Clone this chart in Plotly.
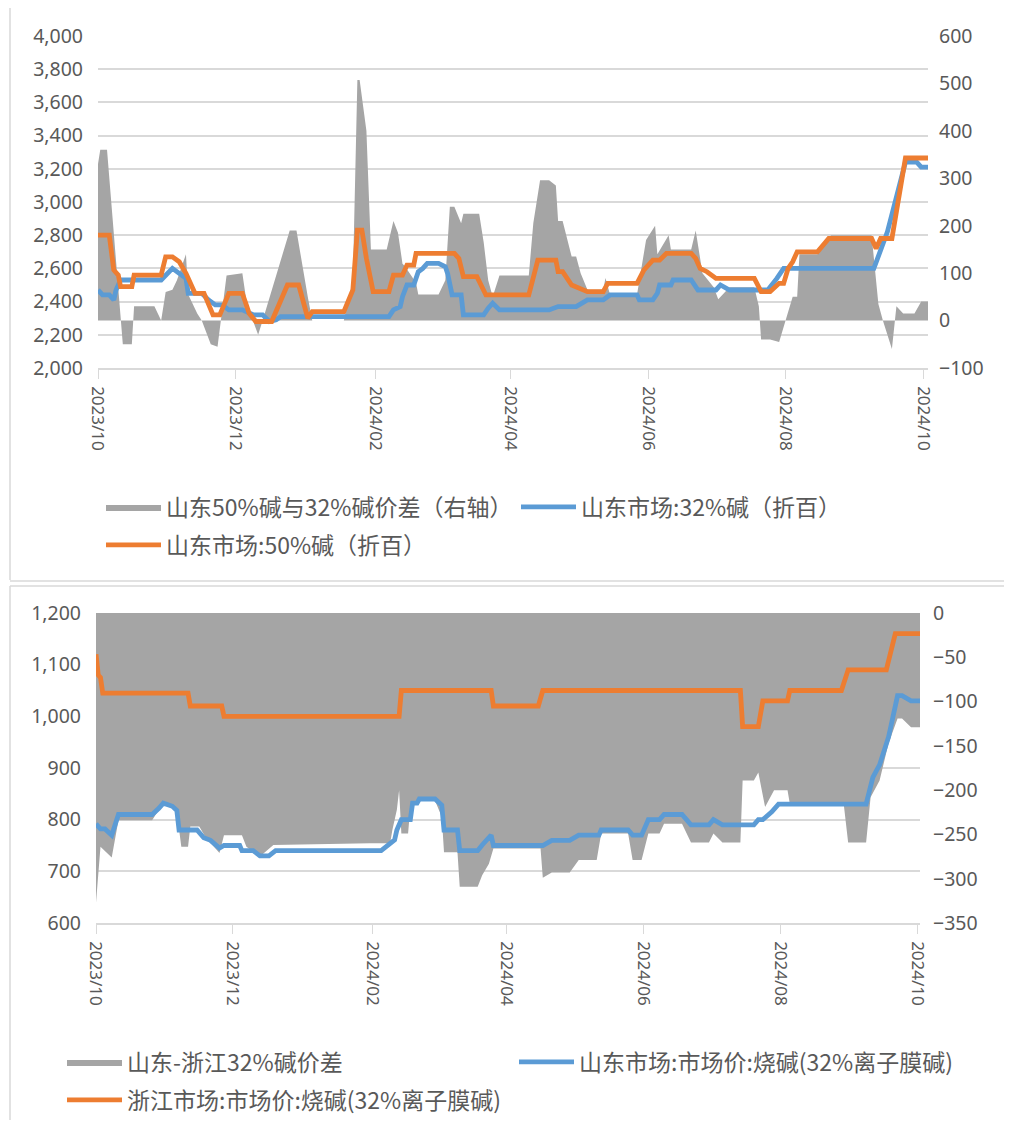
import plotly.graph_objects as go

# ---------------- Top chart data ----------------
top50_dates = ["2023-10-01","2023-10-06","2023-10-08","2023-10-10","2023-10-11","2023-10-16","2023-10-17","2023-10-29",
               "2023-10-31","2023-11-03","2023-11-06","2023-11-08","2023-11-09","2023-11-13","2023-11-17","2023-11-21",
               "2023-11-24","2023-11-28","2023-12-04","2023-12-06","2023-12-07","2023-12-10","2023-12-17","2023-12-24",
               "2023-12-29","2024-01-02","2024-01-04","2024-01-18","2024-01-22","2024-01-24","2024-01-26","2024-01-28",
               "2024-01-31","2024-02-07","2024-02-09","2024-02-13","2024-02-15","2024-02-18","2024-02-19","2024-03-07",
               "2024-03-09","2024-03-11","2024-03-17","2024-03-21","2024-04-09","2024-04-13","2024-04-21","2024-04-22",
               "2024-04-24","2024-04-28","2024-05-02","2024-05-05","2024-05-12","2024-05-14","2024-05-27","2024-05-30",
               "2024-06-03","2024-06-06","2024-06-09","2024-06-20","2024-06-22","2024-06-24","2024-06-27","2024-07-01",
               "2024-07-18","2024-07-21","2024-07-25","2024-07-29","2024-07-31","2024-08-02","2024-08-04","2024-08-06",
               "2024-08-15","2024-08-19","2024-08-20","2024-09-08","2024-09-10","2024-09-12","2024-09-17","2024-09-23",
               "2024-10-03"]
top50_vals = [2800,2800,2590,2560,2490,2490,2560,2560,
              2670,2670,2640,2590,2570,2450,2450,2320,
              2320,2450,2450,2370,2330,2280,2280,2500,
              2500,2300,2340,2340,2470,2830,2830,2660,
              2460,2460,2560,2560,2620,2620,2690,2690,
              2660,2550,2550,2440,2440,2650,2650,2580,
              2580,2500,2480,2460,2460,2510,2510,2590,
              2650,2650,2690,2690,2660,2600,2580,2540,
              2540,2460,2460,2510,2510,2600,2640,2700,
              2700,2760,2780,2780,2720,2780,2780,3265,
              3265]

top32_dates = ["2023-10-01","2023-10-03","2023-10-06","2023-10-08","2023-10-09","2023-10-11","2023-10-29","2023-10-31",
               "2023-11-03","2023-11-06","2023-11-09","2023-11-10","2023-11-16","2023-11-19","2023-11-22","2023-11-25",
               "2023-11-28","2023-12-04","2023-12-07","2023-12-09","2023-12-13","2023-12-16","2023-12-19","2023-12-21",
               "2024-02-07","2024-02-09","2024-02-12","2024-02-13","2024-02-15","2024-02-18","2024-02-20","2024-02-22",
               "2024-02-24","2024-02-29","2024-03-03","2024-03-04","2024-03-06","2024-03-10","2024-03-11","2024-03-20",
               "2024-03-22","2024-03-24","2024-03-27","2024-04-18","2024-04-22","2024-04-30","2024-05-05","2024-05-12",
               "2024-05-15","2024-05-27","2024-05-28","2024-06-03","2024-06-05","2024-06-06","2024-06-11","2024-06-12",
               "2024-06-20","2024-06-23","2024-07-01","2024-07-03","2024-07-07","2024-07-24","2024-07-28","2024-07-31",
               "2024-09-09","2024-09-13","2024-09-15","2024-09-23","2024-09-28","2024-09-30","2024-10-03"]
top32_vals = [2470,2440,2440,2410,2470,2530,2530,2560,
              2600,2570,2540,2450,2450,2410,2380,2380,
              2350,2350,2330,2320,2320,2280,2290,2310,
              2310,2350,2370,2430,2500,2500,2580,2600,
              2630,2630,2610,2570,2440,2440,2320,2320,
              2360,2390,2350,2350,2370,2370,2410,2410,
              2440,2440,2410,2410,2450,2500,2500,2530,
              2530,2470,2470,2500,2470,2470,2540,2600,
              2600,2760,2820,3240,3240,3210,3210]

spread_top_dates = ["2023-10-01","2023-10-02","2023-10-05","2023-10-11","2023-10-12","2023-10-16","2023-10-17","2023-10-26",
                    "2023-10-29","2023-10-31","2023-11-03","2023-11-05","2023-11-09","2023-11-10","2023-11-14","2023-11-16",
                    "2023-11-20","2023-11-23","2023-11-27","2023-12-04","2023-12-06","2023-12-11","2023-12-13","2023-12-25",
                    "2023-12-28","2024-01-02","2024-01-04","2024-01-18","2024-01-22","2024-01-24","2024-01-25","2024-01-28",
                    "2024-01-30","2024-02-06","2024-02-09","2024-02-11","2024-02-13","2024-02-14","2024-02-19","2024-02-20",
                    "2024-02-29","2024-03-03","2024-03-05","2024-03-07","2024-03-10","2024-03-11","2024-03-18","2024-03-20",
                    "2024-03-22","2024-03-24","2024-03-27","2024-04-09","2024-04-11","2024-04-14","2024-04-18","2024-04-21",
                    "2024-04-22","2024-04-24","2024-04-28","2024-04-30","2024-05-02","2024-05-05","2024-05-12","2024-05-13",
                    "2024-05-15","2024-05-27","2024-05-31","2024-06-04","2024-06-05","2024-06-10","2024-06-11","2024-06-20",
                    "2024-06-22","2024-06-25","2024-06-30","2024-07-02","2024-07-04","2024-07-07","2024-07-18","2024-07-20",
                    "2024-07-21","2024-07-25","2024-07-29","2024-08-01","2024-08-04","2024-08-06","2024-08-07","2024-08-15",
                    "2024-08-21","2024-09-08","2024-09-11","2024-09-13","2024-09-17","2024-09-19","2024-09-22","2024-09-27",
                    "2024-09-30","2024-10-03"]
spread_top_vals = [330,360,360,0,-50,-50,30,30,
                   0,60,65,85,140,55,15,0,
                   -50,-55,95,100,35,-30,0,190,
                   190,50,0,0,85,507,507,400,
                   150,150,210,185,120,115,80,55,
                   55,85,240,240,205,225,225,165,
                   85,50,95,95,205,296,296,285,
                   210,210,135,135,100,65,65,90,
                   55,55,170,200,140,180,150,150,
                   190,100,70,45,55,70,70,30,
                   -40,-40,-45,0,50,50,140,140,
                   180,180,35,0,-60,30,15,15,
                   40,40]

# ---------------- Bottom chart data ----------------
zj_dates = ["2023-10-01","2023-10-02","2023-10-03","2023-10-04","2023-11-11","2023-11-12","2023-11-26","2023-11-27",
            "2024-02-13","2024-02-14","2024-03-25","2024-03-26","2024-04-15","2024-04-17","2024-07-14","2024-07-15",
            "2024-07-22","2024-07-24","2024-08-04","2024-08-05","2024-08-28","2024-08-31","2024-09-17","2024-09-21",
            "2024-10-02"]
zj_vals = [1120,1080,1075,1045,1045,1020,1020,1000,
           1000,1050,1050,1020,1020,1050,1050,980,
           980,1030,1030,1050,1050,1090,1090,1160,
           1160]

sd_dates = ["2023-10-01","2023-10-03","2023-10-05","2023-10-08","2023-10-11","2023-10-26","2023-10-29","2023-10-31",
            "2023-11-04","2023-11-06","2023-11-07","2023-11-15","2023-11-18","2023-11-21","2023-11-25","2023-11-27",
            "2023-12-04","2023-12-05","2023-12-10","2023-12-13","2023-12-17","2023-12-20","2024-02-05","2024-02-08",
            "2024-02-11","2024-02-12","2024-02-14","2024-02-18","2024-02-19","2024-02-21","2024-02-22","2024-02-29",
            "2024-03-03","2024-03-04","2024-03-10","2024-03-11","2024-03-19","2024-03-21","2024-03-25","2024-03-26",
            "2024-04-17","2024-04-21","2024-04-29","2024-05-03","2024-05-12","2024-05-13","2024-05-25","2024-05-27",
            "2024-05-31","2024-06-03","2024-06-08","2024-06-10","2024-06-18","2024-06-22","2024-06-30","2024-07-02",
            "2024-07-06","2024-07-20","2024-07-22","2024-07-24","2024-07-28","2024-07-31","2024-09-08","2024-09-11",
            "2024-09-14","2024-09-18","2024-09-22","2024-09-24","2024-09-28","2024-10-02"]
sd_vals = [792,782,782,770,810,810,822,832,
           826,818,780,780,765,760,745,750,
           750,740,740,730,730,740,740,751,
           761,780,800,800,832,832,840,840,
           828,780,780,740,740,751,770,750,
           750,760,760,770,770,780,780,770,
           770,800,800,810,810,790,790,800,
           790,790,800,800,815,830,830,882,
           906,960,1040,1040,1030,1030]

spread_bot_dates = ["2023-10-01","2023-10-02","2023-10-03","2023-10-08","2023-10-11","2023-10-26","2023-10-29","2023-10-31",
                    "2023-11-04","2023-11-06","2023-11-08","2023-11-11","2023-11-12","2023-11-16","2023-11-19","2023-11-25",
                    "2023-11-27","2023-12-05","2023-12-07","2023-12-13","2023-12-19","2024-01-31","2024-02-09","2024-02-10",
                    "2024-02-12","2024-02-13","2024-02-14","2024-02-17","2024-02-18","2024-02-21","2024-02-29","2024-03-03",
                    "2024-03-04","2024-03-10","2024-03-11","2024-03-19","2024-03-21","2024-03-24","2024-03-26","2024-04-16",
                    "2024-04-17","2024-04-21","2024-04-29","2024-05-03","2024-05-11","2024-05-13","2024-05-25","2024-05-27",
                    "2024-05-31","2024-06-03","2024-06-08","2024-06-10","2024-06-18","2024-06-22","2024-06-30","2024-07-02",
                    "2024-07-06","2024-07-14","2024-07-15","2024-07-20","2024-07-22","2024-07-25","2024-07-29","2024-08-04",
                    "2024-08-05","2024-08-29","2024-08-31","2024-09-08","2024-09-10","2024-09-14","2024-09-18","2024-09-22",
                    "2024-09-24","2024-09-28","2024-10-02"]
spread_bot_vals = [-327,-294,-264,-276,-234,-234,-222,-212,
                   -218,-225,-264,-264,-241,-241,-254,-271,
                   -251,-251,-264,-275,-262,-260,-260,-245,
                   -222,-200,-249,-249,-219,-212,-212,-230,
                   -270,-270,-309,-309,-296,-283,-266,-266,
                   -299,-293,-293,-279,-279,-249,-249,-279,
                   -279,-249,-249,-238,-238,-259,-259,-249,
                   -259,-259,-189,-189,-180,-219,-200,-200,
                   -215,-215,-259,-259,-208,-189,-147,-119,
                   -119,-129,-129]

# ---------------- Labels ----------------
top_names = ["山东50%碱与32%碱价差（右轴）", "山东市场:32%碱（折百）", "山东市场:50%碱（折百）"]
bot_names = ["山东-浙江32%碱价差", "山东市场:市场价:烧碱(32%离子膜碱)", "浙江市场:市场价:烧碱(32%离子膜碱)"]

GRAY = "#a5a5a5"
BLUE = "#5b9bd5"
ORANGE = "#ed7d31"
TXT = "#595959"
GRID = "#d9d9d9"
OFF = 8                      # page body margin in the browser
W, H = 1012 - 2 * OFF, 1128 - 2 * OFF

fig = go.Figure()
# top: base axis y (right, area), overlay y2 (left, lines)
fig.add_trace(go.Scatter(x=spread_top_dates, y=spread_top_vals, name=top_names[0], mode="lines",
                         fill="tozeroy", fillcolor=GRAY, line=dict(width=0, color=GRAY),
                         xaxis="x", yaxis="y", legend="legend"))
fig.add_trace(go.Scatter(x=top32_dates, y=top32_vals, name=top_names[1], mode="lines",
                         line=dict(width=4.8, color=BLUE), xaxis="x", yaxis="y2", legend="legend2"))
fig.add_trace(go.Scatter(x=top50_dates, y=top50_vals, name=top_names[2], mode="lines",
                         line=dict(width=4.8, color=ORANGE), xaxis="x", yaxis="y2", legend="legend3"))
# bottom: base axis y3 (right, area), overlay y4 (left, lines)
fig.add_trace(go.Scatter(x=spread_bot_dates, y=spread_bot_vals, name=bot_names[0], mode="lines",
                         fill="tozeroy", fillcolor=GRAY, line=dict(width=0, color=GRAY),
                         xaxis="x2", yaxis="y3", legend="legend4"))
fig.add_trace(go.Scatter(x=sd_dates, y=sd_vals, name=bot_names[1], mode="lines",
                         line=dict(width=4.8, color=BLUE), xaxis="x2", yaxis="y4", legend="legend5"))
fig.add_trace(go.Scatter(x=zj_dates, y=zj_vals, name=bot_names[2], mode="lines",
                         line=dict(width=4.8, color=ORANGE), xaxis="x2", yaxis="y4", legend="legend6"))

ytickfont = dict(family="Noto Sans, Open Sans, sans-serif", size=19.5, color=TXT)
xtickfont = dict(family="Noto Sans, Open Sans, sans-serif", size=17, color=TXT)

def px_x(a, b):
    return [(a - OFF) / W, (b - OFF) / W]

def px_y(top, bottom):
    return [1 - (bottom - OFF) / H, 1 - (top - OFF) / H]

xcommon = dict(type="date", tickformat="%Y/%m", dtick="M2", tick0="2023-10-01", tickangle=90,
               ticks="outside", ticklen=9, tickcolor=GRID, showline=True, linecolor=GRID, linewidth=1.5,
               showgrid=False, tickfont=xtickfont, zeroline=False, ticklabelstandoff=4, automargin=False)

fig.update_layout(
    width=W, height=H, margin=dict(l=0, r=0, t=0, b=0, autoexpand=False),
    paper_bgcolor="white", plot_bgcolor="rgba(0,0,0,0)",
    showlegend=True,
    xaxis=dict(domain=px_x(98, 928), anchor="y", range=["2023-10-01", "2024-10-03"], **xcommon),
    yaxis=dict(domain=px_y(36, 368), side="right", range=[-100, 600], dtick=100, showgrid=False,
               zeroline=False, tickfont=ytickfont, ticklabelstandoff=10, anchor="x", automargin=False),
    yaxis2=dict(overlaying="y", side="left", range=[2000, 4000], dtick=200, tickformat=",d",
                showgrid=True, gridcolor=GRID, gridwidth=1.5, zeroline=False, tickfont=ytickfont,
                ticklabelstandoff=14, anchor="x", automargin=False),
    xaxis2=dict(domain=px_x(96, 920), anchor="y3", range=["2023-10-01", "2024-10-02"], **xcommon),
    yaxis3=dict(domain=px_y(613, 923), side="right", range=[-350, 0], dtick=50, showgrid=False,
                zeroline=False, tickfont=ytickfont, ticklabelstandoff=12, anchor="x2", automargin=False),
    yaxis4=dict(overlaying="y3", side="left", range=[600, 1200], dtick=100, tickformat=",d",
                showgrid=True, gridcolor=GRID, gridwidth=1.5, zeroline=False, tickfont=ytickfont,
                ticklabelstandoff=14, anchor="x2", automargin=False),
)

legfont = dict(family="Noto Sans CJK SC, sans-serif", size=23, color=TXT)
leg_pos = {
    "legend": (101, 507), "legend2": (516, 507), "legend3": (101, 545),
    "legend4": (62, 1062), "legend5": (514, 1062), "legend6": (62, 1100),
}
for key, (lx, ly) in leg_pos.items():
    fig.update_layout(**{key: dict(x=(lx - OFF) / W, y=1 - (ly - OFF) / H, xanchor="left", yanchor="middle",
                                   orientation="h", font=legfont, bgcolor="rgba(0,0,0,0)",
                                   itemwidth=55, borderwidth=0)})

# panel borders (Excel chart frames)
frame = dict(color=GRID, width=1.5)

def fx(p):
    return (p - OFF) / W

def fy(p):
    return 1 - (p - OFF) / H

shapes = [
    dict(type="line", xref="paper", yref="paper", x0=fx(10), x1=fx(10), y0=fy(580), y1=fy(8), line=frame),
    dict(type="line", xref="paper", yref="paper", x0=fx(10), x1=1, y0=fy(581), y1=fy(581), line=frame),
    dict(type="line", xref="paper", yref="paper", x0=fx(10), x1=1, y0=fy(586), y1=fy(586), line=frame),
    dict(type="line", xref="paper", yref="paper", x0=fx(10), x1=fx(10), y0=0, y1=fy(586), line=frame),
]
fig.update_layout(shapes=shapes)

fig.write_html("out.html")
